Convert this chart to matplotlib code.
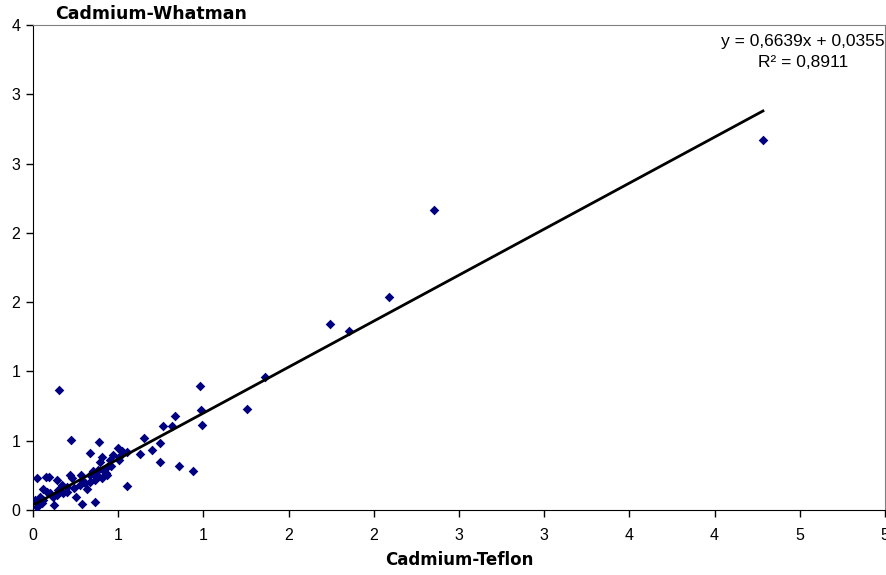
import numpy as np
import matplotlib.pyplot as plt
from matplotlib.ticker import MultipleLocator, FuncFormatter

plt.rcParams['font.family'] = ['Liberation Sans', 'DejaVu Sans']

teflon = [4.284, 2.353, 2.089, 1.743, 1.854, 1.362, 1.256, 0.980, 0.986, 0.992,
          0.833, 0.818, 0.763, 0.651, 0.626, 0.747, 0.745, 0.855, 0.937, 0.553,
          0.153, 0.223, 0.389, 0.335, 0.405, 0.391, 0.458, 0.499, 0.522, 0.550,
          0.503, 0.427, 0.436, 0.405, 0.374, 0.354, 0.315, 0.364, 0.286, 0.252,
          0.217, 0.227, 0.282, 0.276, 0.241, 0.198, 0.168, 0.139, 0.149, 0.119,
          0.123, 0.100, 0.080, 0.076, 0.096, 0.022, 0.012, 0.022, 0.051, 0.060,
          0.041, 0.139, 0.178, 0.198, 0.286, 0.305, 0.335, 0.364, 0.432, 0.413,
          0.335, 0.383, 0.471, 0.452, 0.502, 0.350, 0.060, 0.030, 0.700]
whatman = [2.670, 2.165, 1.537, 1.342, 1.291, 0.960, 0.729, 0.895, 0.722, 0.613,
           0.678, 0.606, 0.606, 0.517, 0.402, 0.486, 0.349, 0.315, 0.281, 0.173,
           0.866, 0.505, 0.491, 0.409, 0.385, 0.349, 0.317, 0.445, 0.428, 0.421,
           0.385, 0.265, 0.253, 0.233, 0.253, 0.265, 0.149, 0.060, 0.041, 0.096,
           0.253, 0.229, 0.253, 0.180, 0.157, 0.168, 0.180, 0.216, 0.144, 0.096,
           0.036, 0.120, 0.132, 0.240, 0.240, 0.229, 0.072, 0.024, 0.048, 0.072,
           0.096, 0.108, 0.120, 0.132, 0.216, 0.193, 0.204, 0.216, 0.313, 0.289,
           0.253, 0.289, 0.397, 0.361, 0.360, 0.280, 0.150, 0.060, 0.430]

slope = 0.6639
intercept = 0.0355
r2 = 0.8911

fig = plt.figure(figsize=(8.87, 5.75), dpi=100)
ax = fig.add_axes([0.0372, 0.113, 0.9605, 0.8435])

ax.scatter(teflon, whatman, marker='D', s=24, color='#000080', linewidths=0, zorder=3)

# trend line over the range of the data
xl = np.array([min(teflon), max(teflon)])
ax.plot(xl, slope * xl + intercept, color='black', lw=2, zorder=4)

ax.set_xlim(0, 5)
ax.set_ylim(0, 3.5)
ax.xaxis.set_major_locator(MultipleLocator(0.5))
ax.yaxis.set_major_locator(MultipleLocator(0.5))

# Excel-style rounding of the labels to integers (0.5 -> 1)
fmt = FuncFormatter(lambda v, p: f"{int(np.floor(v + 0.5 + 1e-9))}")
ax.xaxis.set_major_formatter(fmt)
ax.yaxis.set_major_formatter(fmt)
ax.tick_params(direction='out', length=5, width=1, labelsize=11.5, pad=4)
ax.tick_params(axis='x', pad=8)

for s in ['top', 'right']:
    ax.spines[s].set_color('#808080')
for s in ['left', 'bottom']:
    ax.spines[s].set_color('black')

ax.set_xlabel('Cadmium-Teflon', fontsize=12, fontweight='bold', labelpad=6,
              family=['DejaVu Sans'])
fig.text(55 / 887, 1 - 14 / 575, 'Cadmium-Whatman', fontsize=12.5, fontweight='bold',
         ha='left', va='center', family=['DejaVu Sans'])

eq = (f"y = {slope:.4f}x + {intercept:.4f}".replace('.', ',') + "\n" +
      f"R² = {r2:.4f}".replace('.', ','))
fig.text(803 / 887, 1 - 52 / 575, eq, ha='center', va='center',
         fontsize=12.5, linespacing=1.5)

fig.savefig('out.png', dpi=100)
